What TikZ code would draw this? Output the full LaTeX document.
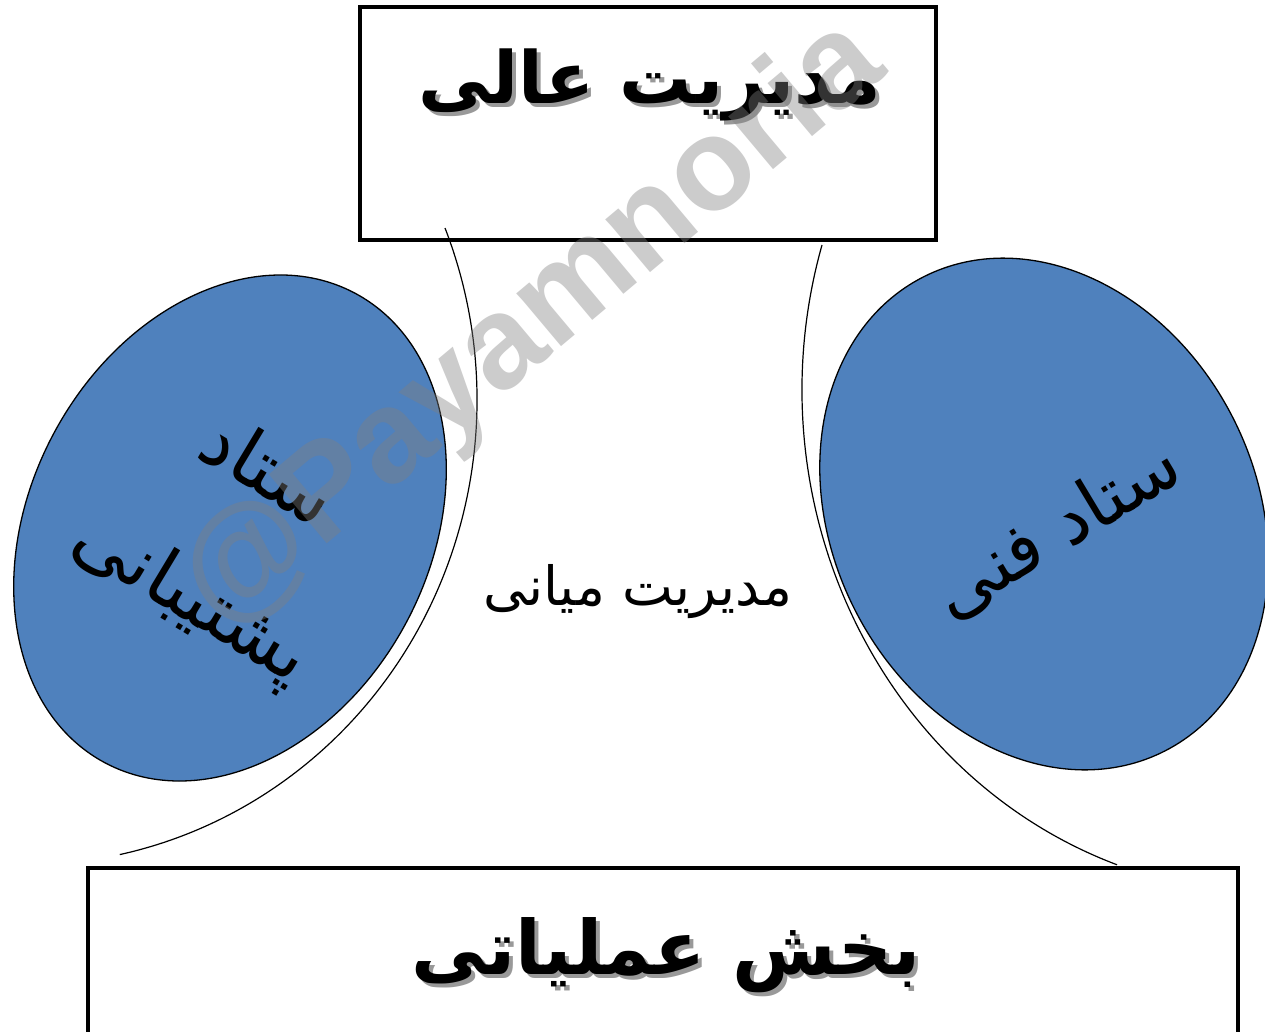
\documentclass[tikz,border=0pt]{standalone}
\usepackage{fontspec}
\usetikzlibrary{shapes.geometric}
\TeXXeTstate=1
\newfontfamily\arabicfont[Script=Arabic]{DejaVu Sans}
\newfontfamily\wmfont{Liberation Sans}
\definecolor{ellblue}{RGB}{79,129,189}
\tikzset{
  framebox/.style={draw=black, line width=4pt, inner sep=0pt},
  staffell/.style={ellipse, draw=black, line width=1.3pt, fill=ellblue, inner sep=0pt},
  toptitle/.style={font=\arabicfont\bfseries\fontsize{72}{90}\selectfont, inner sep=0pt},
  bottitle/.style={font=\arabicfont\bfseries\fontsize{75}{90}\selectfont, inner sep=0pt},
  shadowed/.style={text=black!40},
  elltext/.style={font=\arabicfont\fontsize{75}{146}\selectfont, inner sep=0pt, align=center},
  righttextstyle/.style={font=\arabicfont\fontsize{72}{90}\selectfont, inner sep=0pt},
  midtext/.style={font=\arabicfont\fontsize{54}{60}\selectfont, inner sep=0pt},
  arcline/.style={draw=black, line width=1.2pt},
  watermark/.style={font=\wmfont\bfseries\fontsize{131}{131}\selectfont, text=black!50, text opacity=0.4, inner sep=0pt}
}
\begin{document}
\begin{tikzpicture}[x=1pt,y=-1pt]
\useasboundingbox (0,0) rectangle (1265,1032);
\clip (0,0) rectangle (1265,1032);
\fill[white] (0,0) rectangle (1265,1032);

% ellipses
\node[staffell, minimum width=400pt, minimum height=532pt, rotate=-28] (leftell) at (230,528) {};
\node[staffell, minimum width=424pt, minimum height=532pt, rotate=27] (rightell) at (1044,514) {};

% boxes
\node[framebox, minimum width=576pt, minimum height=233pt] (topbox) at (648,123.5) {};
\node[framebox, minimum width=1150pt, minimum height=200pt] (botbox) at (663,968) {};

% arcs (parts of large ellipses) from the top box towards the bottom box
\coordinate (ls) at (445,228);
\coordinate (rs) at (822,245);
\draw[arcline] (ls) arc[start angle=-21.7, end angle=77.9, x radius=452, y radius=465];
\draw[arcline] (rs) arc[start angle=196.7, end angle=109.5, x radius=472.8, y radius=503.9];

% titles with shadow
\node[toptitle, shadowed] (topshadow) at (654,89) {\beginR مدیریت عالی\endR};
\node[toptitle] (toptext) at (650,85) {\beginR مدیریت عالی\endR};
\node[bottitle, shadowed] (botshadow) at (670,959) {\beginR بخش عملیاتی\endR};
\node[bottitle] (bottext) at (666,955) {\beginR بخش عملیاتی\endR};

% ellipse texts
\node[elltext, rotate=-31] (lefttext) at (228,538) {\beginR ستاد\endR\\\beginR پشتیبانی\endR};
\node[righttextstyle, rotate=31] (righttext) at (1057,530) {\beginR ستاد فنی\endR};

% middle
\node[midtext] (midlabel) at (638,592) {\beginR مدیریت میانی\endR};

% watermark
\node[watermark, rotate=40] (wm) at (534,326) {@Payamnoria};
\end{tikzpicture}
\end{document}
